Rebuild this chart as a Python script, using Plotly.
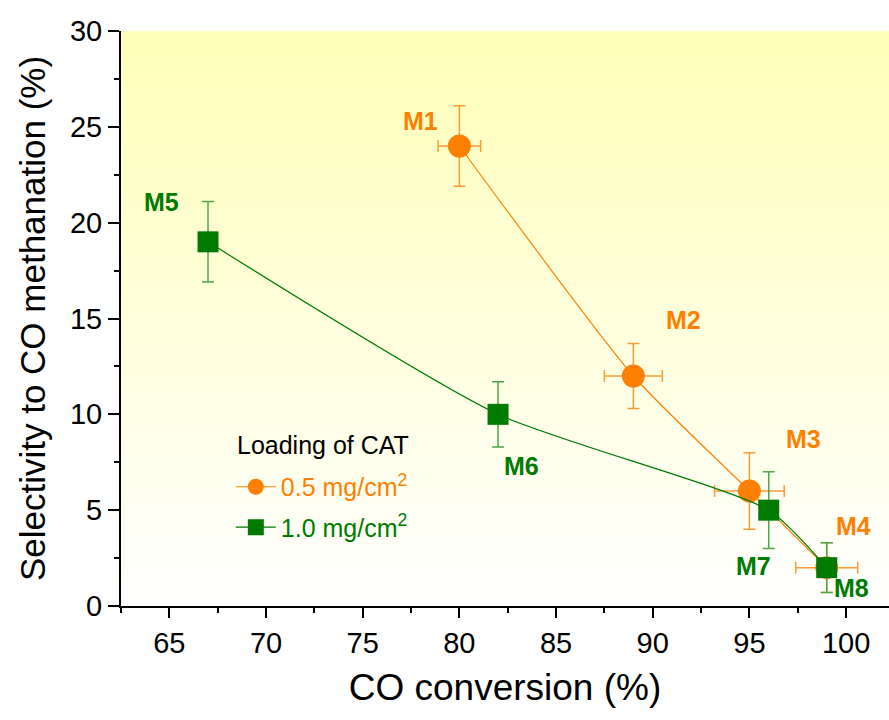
import numpy as np
import plotly.graph_objects as go

# Data
labels_a = ["M1", "M2", "M3", "M4"]
conv_a = [80, 89, 95, 99]
sel_a = [24, 12, 6, 2]
xerr_a = [1.1, 1.5, 1.8, 1.6]
yerr_a = [2.1, 1.7, 2.0, 1.3]

labels_b = ["M5", "M6", "M7", "M8"]
conv_b = [67, 82, 96, 99]
sel_b = [19, 10, 5, 2]
yerr_b = [2.1, 1.7, 2.0, 1.3]

# label positions (data coords)
lab_pos_a = [(78.0, 25.3), (91.6, 14.9), (97.8, 8.7), (100.4, 4.2)]
lab_pos_b = [(64.6, 21.1), (83.2, 7.3), (95.2, 2.1), (100.3, 0.95)]

xr = [62.5, 102.22]
yr = [0, 30]

ORANGE = "#FF8000"
GREEN = "#007A00"
FONT = "Liberation Sans, Arial"

fig = go.Figure()

# gradient background
ys = np.linspace(0, 30, 60)
fig.add_trace(go.Heatmap(
    x=xr, y=ys, z=[[v, v] for v in ys],
    colorscale=[[0, "#FFFFFF"], [1, "#FFFFB8"]],
    showscale=False, hoverinfo="skip", zsmooth="best", showlegend=False,
))

fig.add_trace(go.Scatter(
    x=conv_a, y=sel_a, mode="lines+markers", legendgroup="a",
    name="<span style='color:#FF8000'>0.5 mg/cm<sup>2</sup></span>",
    line=dict(color=ORANGE, width=1.2, shape="spline", smoothing=0.6),
    marker=dict(symbol="circle", size=23, color=ORANGE),
    error_x=dict(type="data", array=xerr_a, color="#FF9A33", thickness=1.5, width=6),
    error_y=dict(type="data", array=yerr_a, color="#FF9A33", thickness=1.5, width=6),
))
fig.add_trace(go.Scatter(
    x=conv_b, y=sel_b, mode="lines+markers", legendgroup="b",
    name="<span style='color:#007A00'>1.0 mg/cm<sup>2</sup></span>",
    line=dict(color=GREEN, width=1.2, shape="spline", smoothing=0.6),
    marker=dict(symbol="square", size=21, color=GREEN),
    error_y=dict(type="data", array=yerr_b, color="#4DA64D", thickness=1.5, width=6),
))

for lab, (x, y) in zip(labels_a, lab_pos_a):
    fig.add_annotation(x=x, y=y, text=f"<b>{lab}</b>", showarrow=False,
                       font=dict(family=FONT, size=25, color=ORANGE))
for lab, (x, y) in zip(labels_b, lab_pos_b):
    fig.add_annotation(x=x, y=y, text=f"<b>{lab}</b>", showarrow=False,
                       font=dict(family=FONT, size=25, color=GREEN))

# legend title
fig.add_annotation(xref="paper", yref="paper", x=0.149, y=0.28,
                   xanchor="left", yanchor="middle", showarrow=False,
                   text="Loading of CAT", font=dict(family=FONT, size=25, color="black"))

fig.update_layout(
    width=889, height=720,
    margin=dict(l=121, r=0, t=31, b=114),
    paper_bgcolor="white", plot_bgcolor="white",
    font=dict(family=FONT, color="black"),
    showlegend=True,
    legend=dict(
        font=dict(size=25),
        x=0.143, y=0.247, xanchor="left", yanchor="top",
        bgcolor="rgba(0,0,0,0)", tracegroupgap=5, itemwidth=40,
    ),
    xaxis=dict(
        range=xr, tickvals=[65, 70, 75, 80, 85, 90, 95, 100],
        showgrid=False, zeroline=False, showline=True, linecolor="black", linewidth=2,
        ticks="outside", ticklen=10, tickwidth=1.5, tickcolor="black",
        tickfont=dict(size=29),
        minor=dict(dtick=2.5, tick0=62.5, ticks="outside", ticklen=5, tickwidth=1.5, tickcolor="black"),
        title=dict(text="CO conversion (%)", font=dict(size=37), standoff=16),
    ),
    yaxis=dict(
        range=yr, tickvals=[0, 5, 10, 15, 20, 25, 30],
        showgrid=False, zeroline=False, showline=True, linecolor="black", linewidth=2,
        ticks="outside", ticklen=11, tickwidth=1.5, tickcolor="black",
        tickfont=dict(size=29),
        minor=dict(dtick=2.5, tick0=0, ticks="outside", ticklen=5, tickwidth=1.5, tickcolor="black"),
        title=dict(text="Selectivity to CO methanation (%)", font=dict(size=35), standoff=14),
    ),
)

fig.write_html("out.html")
